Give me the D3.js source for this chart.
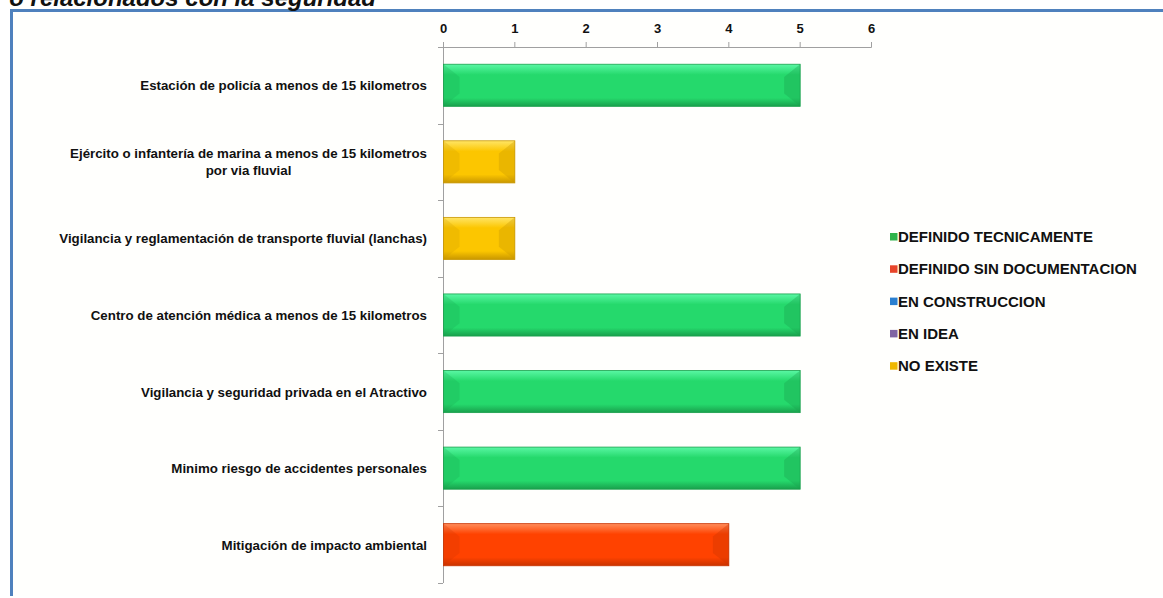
<!DOCTYPE html>
<html>
<head>
<meta charset="utf-8">
<script src="https://cdn.jsdelivr.net/npm/d3@7"></script>
<style>
  body { margin: 0; background: #ffffff; }
  svg text { font-family: Arial, "Liberation Sans", sans-serif; font-weight: bold; fill: #111; }
</style>
</head>
<body>
<div id="viz"></div>
<script>
// chart data
const categories = [
  "Estación de policía a menos de 15 kilometros",
  "Ejército o infantería de marina a menos de 15 kilometros|por via fluvial",
  "Vigilancia y reglamentación de transporte fluvial (lanchas)",
  "Centro de atención médica a menos de 15 kilometros",
  "Vigilancia y seguridad privada en el Atractivo",
  "Minimo riesgo de accidentes personales",
  "Mitigación de impacto ambiental"
];
const values = [5, 1, 1, 5, 5, 5, 4];
const statuses = [
  "DEFINIDO TECNICAMENTE",
  "NO EXISTE",
  "NO EXISTE",
  "DEFINIDO TECNICAMENTE",
  "DEFINIDO TECNICAMENTE",
  "DEFINIDO TECNICAMENTE",
  "DEFINIDO SIN DOCUMENTACION"
];
const legendLabels = [
  "DEFINIDO TECNICAMENTE",
  "DEFINIDO SIN DOCUMENTACION",
  "EN CONSTRUCCION",
  "EN IDEA",
  "NO EXISTE"
];
const xTicks = [0, 1, 2, 3, 4, 5, 6];
const titleText = "o relacionados con la seguridad";

// colours per status: [light, mid, dark]
const palette = {
  "DEFINIDO TECNICAMENTE": ["#5af7a4", "#25d96c", "#19a04c"],
  "DEFINIDO SIN DOCUMENTACION": ["#ff8d5a", "#ff4200", "#c93300"],
  "EN CONSTRUCCION": ["#6fb0f0", "#2a7fd0", "#1d5c9a"],
  "EN IDEA": ["#a892c8", "#8064a2", "#5e4a7a"],
  "NO EXISTE": ["#ffe566", "#fcc600", "#c99700"]
};
const legendColors = ["#2fb34a", "#e8452a", "#2a7fd0", "#8064a2", "#f0b800"];

const W = 1163, H = 598;
const svg = d3.select("#viz").append("svg")
  .attr("width", W)
  .attr("height", H);

// frame (only left and top edges are in view) + cut-off title
svg.append("rect")
  .attr("x", 12).attr("y", 11)
  .attr("width", W - 12).attr("height", 585)
  .attr("fill", "#fffffd");
svg.append("path")
  .attr("d", `M11.5,596V10.5H${W}`)
  .attr("fill", "none")
  .attr("stroke", "#4f81bd").attr("stroke-width", 3);

svg.append("text")
  .attr("x", 376).attr("y", 6)
  .attr("text-anchor", "end")
  .style("font-size", "24px")
  .style("font-style", "italic")
  .text(titleText);

const x = d3.scaleLinear().domain([0, 6]).range([443, 871]);
const y = d3.scaleBand().domain(d3.range(categories.length)).range([47, 583]).paddingInner(0.45).paddingOuter(0.225);
const yb = d3.scaleBand().domain(d3.range(categories.length)).range([47, 583]);

// gradients
const defs = svg.append("defs");
Object.keys(palette).forEach((k, i) => {
  const g = defs.append("linearGradient").attr("id", "g" + i)
    .attr("x1", 0).attr("y1", 0).attr("x2", 0).attr("y2", 1);
  g.append("stop").attr("offset", "0%").attr("stop-color", palette[k][0]);
  g.append("stop").attr("offset", "25%").attr("stop-color", palette[k][1]);
  g.append("stop").attr("offset", "80%").attr("stop-color", palette[k][1]);
  g.append("stop").attr("offset", "100%").attr("stop-color", palette[k][2]);
});
const gradId = s => "url(#g" + Object.keys(palette).indexOf(s) + ")";

// top axis
const xAxis = d3.axisTop(x).tickValues(xTicks).tickSize(5).tickPadding(9).tickFormat(d3.format("d"));
const gx = svg.append("g").attr("transform", "translate(0,47)").call(xAxis);
gx.select(".domain").attr("stroke", "#a0a0a0");
gx.selectAll(".tick line").attr("stroke", "#a0a0a0");
gx.selectAll("text").style("font-size", "13px").attr("fill", "#111");

// left axis line and band ticks
svg.append("line")
  .attr("x1", 443.5).attr("x2", 443.5)
  .attr("y1", 47).attr("y2", 583)
  .attr("stroke", "#a0a0a0");
svg.selectAll(".ytick")
  .data(d3.range(categories.length + 1))
  .join("line")
  .attr("x1", 438).attr("x2", 443)
  .attr("y1", i => Math.round(47 + i * yb.step()) + 0.5)
  .attr("y2", i => Math.round(47 + i * yb.step()) + 0.5)
  .attr("stroke", "#a0a0a0");

// bars
const bars = svg.selectAll(".bar")
  .data(values.map((v, i) => ({ v, i, s: statuses[i] })))
  .join("g").attr("class", "bar");

bars.append("rect")
  .attr("x", x(0) + 0.5)
  .attr("y", d => y(d.i))
  .attr("width", d => x(d.v) - x(0))
  .attr("height", y.bandwidth())
  .attr("fill", d => gradId(d.s))
  .attr("stroke", d => palette[d.s][2])
  .attr("stroke-width", 0.8);

const bev = 16;
// left bevel face
bars.append("path")
  .attr("d", d => {
    const x0 = x(0) + 0.5, y0 = y(d.i), y1 = y0 + y.bandwidth();
    return `M${x0},${y0}L${x0 + bev},${y0 + bev * 0.8}L${x0 + bev},${y1 - bev * 0.8}L${x0},${y1}Z`;
  })
  .attr("fill", d => palette[d.s][2]).attr("opacity", 0.22);
// right bevel face
bars.append("path")
  .attr("d", d => {
    const x1 = x(d.v) + 0.5, y0 = y(d.i), y1 = y0 + y.bandwidth();
    return `M${x1},${y0}L${x1 - bev},${y0 + bev * 0.8}L${x1 - bev},${y1 - bev * 0.8}L${x1},${y1}Z`;
  })
  .attr("fill", d => palette[d.s][2]).attr("opacity", 0.35);

// category labels
categories.forEach((c, i) => {
  const lines = c.split("|");
  const cy = yb(i) + yb.bandwidth() / 2;
  const t = svg.append("text")
    .attr("x", 427)
    .attr("text-anchor", lines.length > 1 ? "middle" : "end")
    .style("font-size", "13.3px");
  if (lines.length > 1) {
    // centred block, right edge at 427
    t.attr("x", 0);
    lines.forEach((l, j) => {
      t.append("tspan").attr("x", 0).attr("y", cy - 8.5 * (lines.length - 1) + j * 17 + 5).text(l);
    });
    const w = t.node().getBBox().width;
    t.attr("transform", `translate(${427 - w / 2},0)`);
  } else {
    t.attr("y", cy + 5).text(c);
  }
});

// legend
const leg = svg.selectAll(".leg")
  .data(legendLabels)
  .join("g").attr("class", "leg")
  .attr("transform", (d, i) => `translate(890,${237 + i * 32.3})`);
leg.append("rect")
  .attr("x", 0).attr("y", -4).attr("width", 7.5).attr("height", 7.5)
  .attr("fill", (d, i) => legendColors[i]);
leg.append("text")
  .attr("x", 8).attr("y", 5)
  .style("font-size", "15px")
  .text(d => d);
</script>
</body>
</html>
